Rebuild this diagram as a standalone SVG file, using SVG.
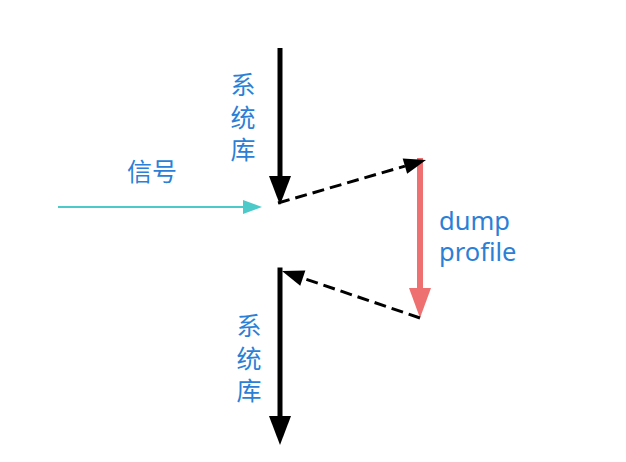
<svg xmlns="http://www.w3.org/2000/svg" width="626" height="462" viewBox="0 0 626 462">
<style>
.lbl{fill:#2B7FD6;font-family:"Noto Sans CJK SC","Noto Sans",sans-serif;font-size:25px;text-anchor:middle}
.vert{fill:#2B7FD6;font-family:"Noto Sans CJK SC","Noto Sans",sans-serif;font-size:25px;writing-mode:vertical-rl;letter-spacing:7.5px}
.en{fill:#2B7FD6;font-family:"Noto Sans","Open Sans",sans-serif;font-size:25.5px}
.blk{stroke:#000;stroke-width:5;fill:none}
.dash{stroke:#000;stroke-width:3;stroke-dasharray:12 6;fill:none}
</style>
<defs>
<marker id="ahBlack" markerUnits="userSpaceOnUse" markerWidth="30" markerHeight="22" refX="0" refY="11" orient="auto" overflow="visible">
<path d="M0,0 L29,11 L0,22 z" fill="#000"/>
</marker>
<marker id="ahDash" markerUnits="userSpaceOnUse" markerWidth="22" markerHeight="16" refX="0" refY="8" orient="auto" overflow="visible">
<path d="M0,0 L22,8 L0,16 z" fill="#000"/>
</marker>
<marker id="ahRed" markerUnits="userSpaceOnUse" markerWidth="30" markerHeight="22" refX="0" refY="11" orient="auto" overflow="visible">
<path d="M0,0 L30,11 L0,22 z" fill="#EE7070"/>
</marker>
<marker id="ahCyan" markerUnits="userSpaceOnUse" markerWidth="20" markerHeight="14" refX="0" refY="7" orient="auto" overflow="visible">
<path d="M0,0 L19,7 L0,14 z" fill="#4CCACA"/>
</marker>
</defs>
<g id="connectors">
<line id="sys-top" class="blk" x1="280" y1="48" x2="280" y2="176" marker-end="url(#ahBlack)"/>
<path id="sys-bottom" class="blk" d="M280,270 L280,416" stroke-linecap="square" marker-end="url(#ahBlack)"/>
<line id="signal" x1="58" y1="207" x2="243" y2="207" stroke="#4CCACA" stroke-width="2" marker-end="url(#ahCyan)"/>
<line id="dump" x1="420" y1="158" x2="420" y2="288" stroke="#EE7070" stroke-width="6" marker-end="url(#ahRed)"/>
<line id="dash-up" class="dash" x1="278" y1="203" x2="404.9" y2="166.1" marker-end="url(#ahDash)"/>
<line id="dash-back" class="dash" x1="420" y1="318" x2="302.8" y2="278.1" marker-end="url(#ahDash)"/>
</g>
<g id="label-sys-top">
<text class="vert" x="243" y="72">系统库</text>
</g>
<g id="label-sys-bottom">
<text class="vert" x="249" y="313">系统库</text>
</g>
<g id="label-signal">
<text class="lbl" x="152" y="181">信号</text>
</g>
<g id="label-dump">
<text class="en" x="439" y="230">dump</text>
<text class="en" x="439" y="261">profile</text>
</g>
</svg>
